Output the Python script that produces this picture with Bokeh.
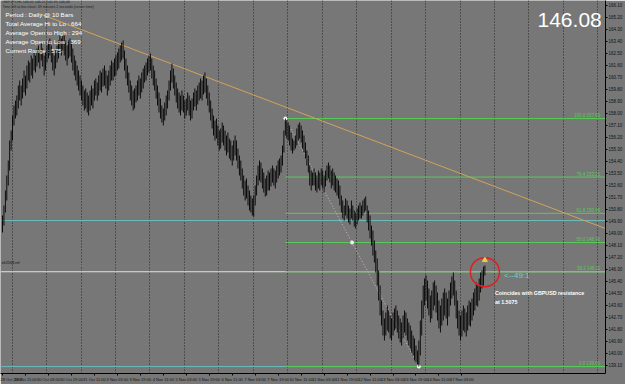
from bokeh.plotting import figure
from bokeh.models import Range1d, FixedTicker, Label, PrintfTickFormatter
from bokeh.embed import file_html
from bokeh.resources import INLINE
from bokeh.core.properties import value

# ---------------- data ----------------
highs = [
    150.33, 151.08, 152.20, 153.33, 154.45, 155.95, 156.70, 157.83, 158.58, 158.95, 159.33, 160.08, 160.45, 160.08, 160.60, 161.20, 160.83, 161.58, 161.95, 161.80, 162.33, 162.10, 162.70, 162.33, 162.85,
    163.08, 162.70, 163.30, 162.85, 162.33, 162.70, 163.08, 163.45, 163.60, 163.08, 162.70, 162.33, 162.70, 163.08, 163.45, 163.83, 163.60, 164.05, 163.83, 163.45, 163.08, 163.45, 163.60, 163.30, 162.85, 162.33, 161.95, 161.58, 161.20, 160.83, 160.45,
    160.08, 159.70, 159.85, 159.55, 159.33, 159.70, 160.08, 159.85, 160.45, 160.60, 160.30, 160.83, 161.20, 161.05, 161.35, 161.58, 161.20, 160.83, 161.20, 161.58, 161.95, 161.80, 162.10, 162.33, 162.55,
    162.85, 163.08, 163.30, 163.45, 162.70, 162.10, 161.58, 161.05, 160.45, 160.08, 159.70, 159.85, 160.08, 160.45, 160.83, 160.60, 161.05, 161.35, 161.58, 161.80,
    162.10, 162.33, 162.48, 162.10, 161.58, 161.20, 160.60, 160.08, 159.55, 159.10, 158.58, 158.35, 158.80, 159.33, 159.70,
    160.45, 161.20, 161.73, 161.35, 160.83, 160.30, 159.85, 159.55, 159.33, 159.70,
    159.33, 158.95, 159.10, 159.55, 159.33, 158.95, 159.10, 159.55, 159.85, 159.70, 160.08, 160.30, 160.60, 160.45, 160.83, 161.05, 160.60,
    160.08, 159.55, 158.95, 158.35, 157.83, 157.45, 157.60, 157.08, 156.70, 156.85, 157.30, 157.08, 156.70, 156.33, 156.55, 156.10,
    155.95, 155.58, 155.95, 156.33, 155.95, 155.35, 154.83, 154.45, 153.85, 153.33, 152.95, 153.10, 152.58, 152.20, 151.83, 151.60, 151.83,
    152.58, 153.33, 154.08, 154.45, 154.30, 153.85, 153.55, 153.10, 153.33, 153.70, 153.55, 153.85, 154.08, 153.85, 153.70, 154.08, 154.45, 154.60, 154.83, 155.58, 156.70, 157.60,
    157.45, 157.30, 157.08, 156.55, 156.10, 155.95, 156.33, 156.85, 157.15, 157.30, 157.08, 156.70, 156.33, 155.80, 155.20, 154.83, 154.08, 153.70, 153.55,
    153.85, 153.55, 153.33, 153.70, 153.55, 153.85, 153.70, 153.33, 153.70, 154.08, 154.30, 154.08, 153.70, 153.85, 153.55, 153.33, 153.10,
    152.95, 152.58, 151.83, 151.45, 151.08, 151.60, 151.45, 151.08, 150.85, 151.45, 151.08, 150.70, 150.55, 150.85, 151.08, 151.30, 151.08, 151.45, 151.60, 151.75,
    151.08, 150.70, 150.33, 149.58, 149.20, 148.45, 147.70, 147.10, 146.20, 145.08, 143.95, 143.20, 142.60, 143.05, 143.58, 143.20, 142.83,
    142.60, 143.05, 143.35, 143.58, 143.20, 142.83, 142.60, 142.30, 142.83, 143.20, 143.05, 142.60, 142.30, 142.08, 141.70, 141.33, 141.10, 140.58, 140.20, 140.95,
    142.45, 143.95, 145.08, 145.60, 145.83, 145.45, 144.85, 144.33, 144.70, 145.30, 145.45, 145.08, 144.55, 143.95, 143.58, 144.10, 144.55, 144.85, 144.55, 144.10,
    144.70, 145.30, 145.75, 146.05, 145.45, 144.70, 143.95, 143.20, 142.83, 143.20, 143.58, 143.35, 143.05, 143.58, 143.95, 143.80, 144.10, 144.55, 144.85, 145.30,
    145.08, 145.60, 146.05, 146.20, 146.50, 146.58,
]
lows = [
    149.05, 149.58, 150.55, 151.45, 152.58, 153.70, 155.20, 155.95, 157.08, 157.60, 157.83, 158.35, 158.95, 158.58, 159.10, 159.55, 159.33, 159.85, 160.45, 160.30, 160.83, 160.60, 161.20, 161.05, 161.50,
    161.80, 161.35, 161.95, 161.50, 160.83, 161.20, 161.80, 162.10, 162.33, 161.80, 161.20, 160.83, 161.35, 161.80, 162.10, 162.55, 162.33, 162.70, 162.33, 161.95, 161.58, 162.10, 162.25, 161.80, 161.20, 160.83, 160.45, 160.08, 159.70, 159.33, 158.95,
    158.58, 158.20, 158.35, 158.05, 157.83, 158.20, 158.58, 158.35, 158.95, 159.33, 158.95, 159.33, 159.70, 159.55, 160.00, 160.08, 159.85, 159.33, 159.70, 160.08, 160.45, 160.45, 160.75, 160.83, 161.20,
    161.35, 161.80, 161.95, 162.10, 161.20, 160.60, 160.08, 159.55, 158.95, 158.58, 158.20, 158.35, 158.80, 158.95, 159.33, 159.10, 159.55, 159.85, 160.30, 160.45,
    160.83, 161.05, 161.20, 160.60, 160.08, 159.70, 159.10, 158.58, 158.05, 157.60, 157.30, 157.08, 157.45, 157.83, 158.35,
    158.95, 159.70, 160.30, 159.85, 159.33, 158.80, 158.35, 158.05, 157.83, 158.20,
    158.05, 157.60, 157.83, 158.20, 157.83, 157.45, 157.60, 158.20, 158.50, 158.20, 158.65, 158.95, 159.10, 158.95, 159.40, 159.55, 159.10,
    158.58, 158.05, 157.45, 156.85, 156.33, 155.95, 156.10, 155.58, 155.20, 155.35, 155.80, 155.58, 155.20, 154.83, 155.05, 154.60,
    154.45, 154.08, 154.45, 154.83, 154.45, 153.85, 153.33, 152.95, 152.35, 151.83, 151.45, 151.60, 151.08, 150.70, 150.55, 150.33, 150.25,
    151.08, 151.83, 152.58, 152.95, 152.80, 152.35, 152.05, 151.75, 151.83, 152.20, 152.20, 152.50, 152.80, 152.58, 152.35, 152.80, 153.10, 153.33, 153.55, 154.08, 155.05, 156.33,
    156.10, 155.95, 155.58, 155.20, 154.98, 155.20, 155.35, 155.58, 155.95, 156.10, 155.80, 155.35, 155.05, 154.60, 154.08, 153.55, 152.58, 152.20, 152.58,
    152.58, 152.20, 152.05, 152.35, 152.20, 152.58, 152.35, 152.05, 152.50, 152.95, 153.10, 152.80, 152.35, 152.58, 152.20, 152.05, 151.83,
    151.60, 151.08, 150.55, 150.10, 149.95, 150.33, 150.10, 149.80, 149.65, 150.10, 149.95, 149.50, 149.35, 149.65, 149.95, 150.10, 150.10, 150.33, 150.55, 150.70,
    149.80, 149.20, 148.60, 148.08, 147.33, 146.80, 146.05, 145.08, 143.95, 142.83, 142.08, 141.33, 140.95, 141.33, 141.70, 141.55, 141.10,
    140.95, 141.33, 141.70, 141.85, 141.55, 141.10, 140.80, 140.58, 141.10, 141.55, 141.33, 140.95, 140.58, 140.35, 140.05, 139.83, 139.45, 139.30, 139.15, 139.00,
    139.83, 141.33, 142.60, 143.58, 143.95, 143.35, 142.83, 142.30, 142.60, 143.20, 143.58, 143.05, 142.45, 141.85, 141.55, 142.08, 142.45, 142.83, 142.60, 142.08,
    142.75, 143.58, 144.10, 144.33, 143.58, 142.60, 141.85, 141.33, 140.95, 141.25, 141.70, 141.55, 141.25, 141.70, 142.08, 142.00, 142.45, 142.83, 143.20, 143.58,
    143.50, 143.95, 144.55, 144.85, 145.08, 145.83,
]
last_price = 146.08

x_tick_bars = [0, 16, 32, 48, 64, 80, 96, 112, 128, 144, 160, 176, 192, 208, 224, 240, 256, 272, 288, 304, 320]
x_tick_labels = ["28 Oct 2008", "29 Oct 11:00", "30 Oct 03:00", "30 Oct 19:00", "31 Oct 11:00",
                 "3 Nov 03:00", "3 Nov 19:00", "4 Nov 11:00", "5 Nov 03:00", "5 Nov 19:00",
                 "6 Nov 11:00", "7 Nov 03:00", "7 Nov 19:00", "10 Nov 11:00", "11 Nov 03:00",
                 "11 Nov 19:00", "12 Nov 11:00", "13 Nov 03:00", "13 Nov 19:00", "14 Nov 11:00",
                 "17 Nov 03:00"]
y_ticks = [166.10, 165.20, 164.30, 163.40, 162.50, 161.60, 160.70, 159.80, 158.90, 158.00,
           157.10, 156.20, 155.30, 154.40, 153.50, 152.60, 151.70, 150.80, 149.90, 149.00,
           148.10, 147.20, 146.30, 145.40, 144.50, 143.60, 142.70, 141.80, 140.90, 140.00,
           139.10, 138.20]

fib_levels = [0.0, 38.2, 50.0, 61.8, 76.4, 100.0]
fib_prices = [139.00, 146.11, 148.30, 150.49, 153.21, 157.60]
fib_high_bar = 197
fib_low_bar = 290

trend_bars = [26, 420]
trend_prices = [165.45, 149.35]

support_prices = [149.95, 139.00]
ref_price = 146.58

info_lines = ["Period :  Daily @  10 Bars",
              "Total Average Hi to Lo :  664",
              "Average Open to High :  294",
              "Average Open to Low :  369",
              "Current Range :  575"]

# ---------------- layout helpers (pixel -> data) ----------------
X_MIN, X_MAX = -1.39, 420.0
Y_MIN, Y_MAX = 138.48, 166.45


def bx(px):
    return (px - 2) / 1.443


def py(ypx):
    return 166.45 - 0.075 * ypx


BG = "#777777"
GREEN = "#55cc55"
TEAL = "#6bbcbc"

p = figure(width=625, height=384, x_range=Range1d(X_MIN, X_MAX), y_range=Range1d(Y_MIN, Y_MAX),
           output_backend="svg", toolbar_location=None, min_border=0,
           min_border_left=0, min_border_top=0, min_border_right=0, min_border_bottom=0,
           background_fill_color=BG, border_fill_color=BG, outline_line_color=None,
           y_axis_location="right")

# grid
p.ygrid.visible = False
p.xgrid.ticker = FixedTicker(ticks=[6.7 + 24 * k for k in range(18)])
p.xgrid.grid_line_color = "#202020"
p.xgrid.grid_line_dash = "1 2"
p.xgrid.grid_line_alpha = 0.9

# axes
p.yaxis.ticker = FixedTicker(ticks=y_ticks)
p.yaxis.formatter = PrintfTickFormatter(format="%.2f")
p.xaxis.ticker = FixedTicker(ticks=x_tick_bars)
p.xaxis.major_label_overrides = {b: t for b, t in zip(x_tick_bars, x_tick_labels)}
for ax in (p.xaxis[0], p.yaxis[0]):
    ax.axis_line_color = "black"
    ax.major_tick_line_color = "black"
    ax.major_tick_out = 2
    ax.major_tick_in = 0
    ax.minor_tick_line_color = None
    ax.major_label_standoff = 1
    ax.major_label_text_font = "Liberation Sans"
    ax.major_label_text_color = "#111111"
p.yaxis.major_label_text_font_size = "4.5px"
p.xaxis.major_label_text_font_size = "4px"
p.xaxis.major_label_text_align = "left"

# horizontal objects
for sp in support_prices:
    p.line([X_MIN, X_MAX], [sp, sp], line_color=TEAL, line_width=1)
p.line([X_MIN, X_MAX], [fib_prices[1], fib_prices[1]], line_color="#d4e8d4", line_width=1)
p.line([X_MIN, X_MAX], [ref_price, ref_price], line_color="#c85a5a", line_width=1, line_dash="3 2 1 2")

# fib retracement lines
p.ray(x=[fib_high_bar] * len(fib_prices), y=fib_prices, length=0, angle=0,
      line_color=GREEN, line_width=1)
p.text(x=[X_MAX - 1] * len(fib_prices), y=fib_prices,
       text=[f"{l:.1f}    {v:.2f}" for l, v in zip(fib_levels, fib_prices)],
       text_align="right", text_baseline="bottom", text_font_size="4.5px",
       text_color=GREEN, text_font=value("Liberation Sans"), y_offset=-0.5)

# fib diagonal
fx = [fib_high_bar, (fib_high_bar + fib_low_bar) / 2, fib_low_bar]
fy = [fib_prices[-1], (fib_prices[-1] + fib_prices[0]) / 2, fib_prices[0]]
p.line([fx[0], fx[2]], [fy[0], fy[2]], line_color="#d8b4b4", line_dash="1 2", line_width=1)
p.scatter(fx, fy, size=3, color="white")

# trend line
p.line(trend_bars, trend_prices, line_color="#d2a35a", line_width=1)

# candles
idx = list(range(len(highs)))
p.vbar(x=idx, bottom=lows, top=highs, width=0.62, fill_color="black", line_color=None)

# highlight circle and marker on the last bar
p.scatter([idx[-1]], [last_price], size=29, fill_color=None, line_color="#dd2020", line_width=1.5)
p.scatter([idx[-1]], [highs[-1] + 0.4], marker="triangle", size=5, color="#e8d040")

FONT = "Liberation Sans"
# top-left texts
p.add_layout(Label(x=bx(2), y=py(1.5), text="GBPJPY,H1  146.02 146.21 145.95 146.08",
                   text_font_size="3.6px", text_color="#222222", text_font=FONT, text_baseline="middle"))
p.add_layout(Label(x=bx(2), y=py(6), text="Time left to bar close: 49 minutes 2 seconds (server time)",
                   text_font_size="3.6px", text_color="#222222", text_font=FONT, text_baseline="middle"))
for k, t in enumerate(info_lines):
    p.add_layout(Label(x=bx(5), y=py(14 + 9 * k), text=t, text_font_size="6.2px",
                       text_color="white", text_font=FONT, text_baseline="middle"))

p.add_layout(Label(x=bx(572), y=py(19.5), text=f"{last_price:.2f}", text_font_size="21px",
                   text_color="white", text_font=FONT, text_align="center", text_baseline="middle"))

p.add_layout(Label(x=bx(1), y=ref_price, text="sfr2563.ref", text_font_size="3.8px",
                   text_color="#111111", text_font=FONT, text_baseline="bottom"))

p.add_layout(Label(x=bx(506), y=py(275), text="<--49:1", text_font_size="8px",
                   text_color="#70d0d0", text_font=FONT, text_baseline="middle"))
p.add_layout(Label(x=bx(497), y=py(292), text="Coincides with GBPUSD resistance", text_font_size="5.3px",
                   text_color="white", text_font=FONT, text_font_style="bold", text_baseline="middle"))
p.add_layout(Label(x=bx(497), y=py(301.5), text="at 1.5075", text_font_size="5.3px",
                   text_color="white", text_font=FONT, text_font_style="bold", text_baseline="middle"))

# price boxes on the right scale
for pr, col in ((last_price, "#40e0e0"), (support_prices[0], "#7fd8e8"), (support_prices[1], "#40e0e0")):
    p.add_layout(Label(x=611, y=pr, x_units="screen", text=f"{pr:.2f}", text_font_size="4.5px",
                       text_color="black", text_font=FONT, text_baseline="middle",
                       background_fill_color=col, background_fill_alpha=1.0))

open("out.html", "w").write(file_html(p, INLINE))
